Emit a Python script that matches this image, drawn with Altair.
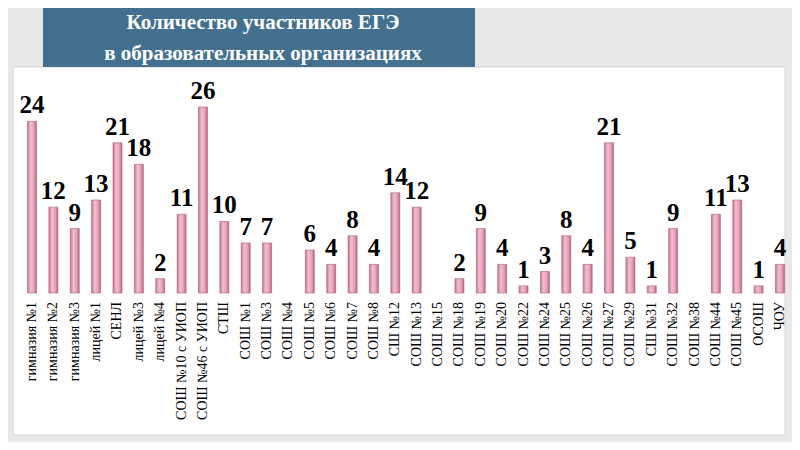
import altair as alt
import pandas as pd

CATEGORIES = [
    "гимназия №1", "гимназия №2", "гимназия №3", "лицей №1", "СЕНЛ", "лицей №3",
    "лицей №4", "СОШ №10 с УИОП", "СОШ №46 с УИОП", "СТШ", "СОШ №1", "СОШ №3",
    "СОШ №4", "СОШ №5", "СОШ №6", "СОШ №7", "СОШ №8", "СШ №12", "СОШ №13",
    "СОШ №15", "СОШ №18", "СОШ №19", "СОШ №20", "СОШ №22", "СОШ №24", "СОШ №25",
    "СОШ №26", "СОШ №27", "СОШ №29", "СШ №31", "СОШ №32", "СОШ №38", "СОШ №44",
    "СОШ №45", "ОСОШ", "ЧОУ",
]
VALUES = [
    24, 12, 9, 13, 21, 18,
    2, 11, 26, 10, 7, 7,
    0, 6, 4, 8, 4, 14, 12,
    0, 2, 9, 4, 1, 3, 8,
    4, 21, 5, 1, 9, 0, 11,
    13, 1, 4,
]
TITLE_LINES = ["Количество участников ЕГЭ", "в образовательных организациях"]

df = pd.DataFrame({"school": CATEGORIES, "count": VALUES})
one = alt.Data(values=[{}])

x_enc = alt.X("school:N", sort=CATEGORIES,
              scale=alt.Scale(type="point", range=[24, 772], padding=0), axis=None)
y_enc = alt.Y("count:Q", scale=alt.Scale(domain=[0, 26], range=[285, 99]), axis=None)

panel = alt.Chart(one).mark_rect(color="white", stroke="#d6d6d6", strokeWidth=1).encode(
    x=alt.value(5), x2=alt.value(777), y=alt.value(59), y2=alt.value(427))

banner = alt.Chart(one).mark_rect(color="#43708f").encode(
    x=alt.value(35), x2=alt.value(467), y=alt.value(0), y2=alt.value(59))

TITLE_FONT = "Liberation Serif"
title1 = alt.Chart(pd.DataFrame({"t": [TITLE_LINES[0]]})).mark_text(
    font=TITLE_FONT, fontWeight="bold", fontSize=21, color="white",
    align="center", baseline="middle").encode(
    text="t:N", x=alt.value(255), y=alt.value(15))
title2 = alt.Chart(pd.DataFrame({"t": [TITLE_LINES[1]]})).mark_text(
    font=TITLE_FONT, fontWeight="bold", fontSize=21, color="white",
    align="center", baseline="middle").encode(
    text="t:N", x=alt.value(255), y=alt.value(46))

grad = alt.Gradient(
    gradient="linear", x1=0, x2=1, y1=0, y2=0,
    stops=[
        alt.GradientStop(offset=0, color="#c07891"),
        alt.GradientStop(offset=0.35, color="#f3bfcd"),
        alt.GradientStop(offset=0.7, color="#e7a3b6"),
        alt.GradientStop(offset=1, color="#b06a82"),
    ],
)

base = alt.Chart(df).transform_filter("datum.count > 0")

bars = base.mark_bar(size=9, color=grad, stroke="#a85f78", strokeWidth=0.6).encode(
    x=x_enc, y=y_enc, y2=alt.datum(0))

values = base.mark_text(font="Liberation Serif", fontWeight="bold", fontSize=25,
                        color="black", baseline="bottom", dy=-3).encode(
    x=x_enc, y=y_enc, text="count:Q")

cats = alt.Chart(df).mark_text(font="Liberation Serif", fontSize=14, color="black",
                               angle=270, align="right", baseline="middle").encode(
    x=x_enc, y=alt.value(294), text="school:N")

chart = alt.layer(panel, banner, title1, title2, bars, values, cats).properties(
    width=784, height=434, background="#e8e8e8", padding=0, autosize="none"
).configure_view(stroke=None)

chart.save("out.html", embed_options={"renderer": "svg", "actions": False})
